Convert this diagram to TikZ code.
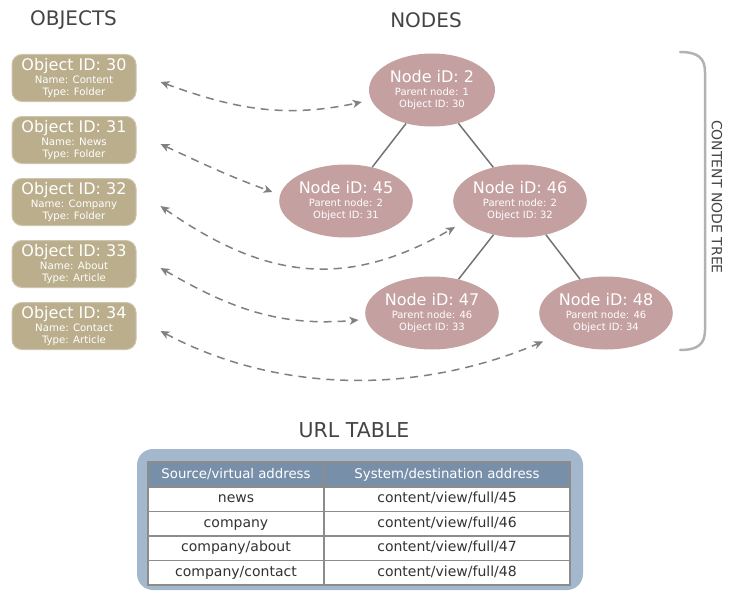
\documentclass[tikz,border=0pt]{standalone}
\usepackage{fontspec}
\setmainfont{DejaVu Sans}
\usepackage{xcolor}
\usepackage{tikz}
\usetikzlibrary{positioning, shapes.geometric, arrows.meta}

\definecolor{objfill}{RGB}{186,174,140}
\definecolor{objline}{RGB}{205,197,172}
\definecolor{nodefill}{RGB}{197,160,160}
\definecolor{framefill}{RGB}{163,184,205}
\definecolor{headfill}{RGB}{120,143,170}
\definecolor{linkgray}{RGB}{128,128,128}
\definecolor{titlegray}{RGB}{68,68,68}
\definecolor{bracegray}{RGB}{178,178,178}

\begin{document}
\begin{tikzpicture}[x=1pt, y=1pt,
    title/.style={font=\fontsize{20}{22}\selectfont, text=titlegray},
    objbox/.style={rectangle, rounded corners=10pt, fill=objfill, draw=objline, line width=1pt,
        minimum width=124pt, minimum height=47pt, inner sep=0pt, text=white, align=center,
        font=\fontsize{10.2}{12.5}\selectfont},
    treenode/.style={ellipse, fill=nodefill, minimum width=126pt, minimum height=73pt,
        inner sep=0pt, text=white, align=center, font=\fontsize{10}{12.5}\selectfont},
    treeline/.style={draw=black!55, line width=1.5pt},
    link/.style={draw=linkgray, line width=1.5pt, dash pattern=on 8pt off 6pt,
        {Stealth[length=9pt,width=8pt,inset=2.5pt]}-{Stealth[length=9pt,width=8pt,inset=2.5pt]}},
    cell/.style={rectangle, draw=black!45, fill=white, line width=1.2pt, minimum height=24.5pt,
        text height=10pt, text depth=3pt, inner sep=0pt, outer sep=0pt, text=black!80,
        font=\fontsize{14}{15}\selectfont},
]
\useasboundingbox (0,0) rectangle (733,-594);

% titles
\node[title] (objtitle) at (73.5,-20) {OBJECTS};
\node[title] (nodetitle) at (426,-20) {NODES};

% objects
\node[objbox] (o30) at (74,-78) {{\fontsize{16}{16}\selectfont Object ID: 30}\\Name: Content\\Type: Folder};
\node[objbox] (o31) [below=14pt of o30] {{\fontsize{16}{16}\selectfont Object ID: 31}\\Name: News\\Type: Folder};
\node[objbox] (o32) [below=14pt of o31] {{\fontsize{16}{16}\selectfont Object ID: 32}\\Name: Company\\Type: Folder};
\node[objbox] (o33) [below=14pt of o32] {{\fontsize{16}{16}\selectfont Object ID: 33}\\Name: About\\Type: Article};
\node[objbox] (o34) [below=14pt of o33] {{\fontsize{16}{16}\selectfont Object ID: 34}\\Name: Contact\\Type: Article};

% content node tree
\node[treenode] (n2) at (432,-90) {{\fontsize{16}{16}\selectfont Node iD: 2}\\Parent node: 1\\Object ID: 30};
\node[treenode] (n45) at (346,-201) {{\fontsize{16}{16}\selectfont Node iD: 45}\\Parent node: 2\\Object ID: 31};
\node[treenode] (n46) at (520,-201) {{\fontsize{16}{16}\selectfont Node iD: 46}\\Parent node: 2\\Object ID: 32};
\node[treenode] (n47) at (432,-313) {{\fontsize{16}{16}\selectfont Node iD: 47}\\Parent node: 46\\Object ID: 33};
\node[treenode] (n48) at (606,-313) {{\fontsize{16}{16}\selectfont Node iD: 48}\\Parent node: 46\\Object ID: 34};

\draw[treeline] (n2) -- (n45);
\draw[treeline] (n2) -- (n46);
\draw[treeline] (n46) -- (n47);
\draw[treeline] (n46) -- (n48);

% object <-> node links
\draw[link] ([shift={(24,-4)}]o30.east) to[out=-20, in=192] ([shift={(-7,-12)}]n2.west);
\draw[link] ([shift={(24,-4)}]o31.east) to[out=-25, in=160] ([shift={(-6.5,9)}]n45.west);
\draw[link] ([shift={(24,-4)}]o32.east) to[out=-35, in=210, looseness=1.1] ([shift={(2,-26)}]n46.west);
\draw[link] ([shift={(24,-4)}]o33.east) to[out=-30, in=185] ([shift={(-6.5,-7)}]n47.west);
\draw[link] ([shift={(24,-5)}]o34.east) to[out=-28, in=203, looseness=0.9] ([shift={(4,-28.5)}]n48.west);

% bracket
\draw[bracegray, line width=2.5pt, line cap=round]
    (680,-52) .. controls (698,-52) and (705,-58) .. (705,-72) -- (705,-330)
    .. controls (705,-344) and (698,-350) .. (680,-350);
\node[rotate=-90, text=titlegray, font=\fontsize{14}{15}\selectfont] (treelabel) at (717,-197) {CONTENT NODE TREE};

% url table
\node[title, font=\fontsize{20.5}{22}\selectfont] (urltitle) at (354,-430) {URL TABLE};
\node[rectangle, rounded corners=16pt, fill=framefill, minimum width=446pt, minimum height=141pt] (urlframe) at (360,-519.5) {};

\node[cell, fill=headfill, text=white, minimum width=176pt, minimum height=25pt, font=\fontsize{13.3}{14}\selectfont] (src0) at (236,-474.5) {Source/virtual address};
\node[cell, fill=headfill, text=white, minimum width=246pt, minimum height=25pt, font=\fontsize{13.3}{14}\selectfont] (dst0) [right=0pt of src0] {System/destination address};
\foreach \src/\dst [count=\i] in {news/45, company/46, {company/about}/47, {company/contact}/48} {
    \pgfmathtruncatemacro{\prev}{\i-1}
    \node[cell, minimum width=176pt] (src\i) [below=0pt of src\prev] {\src};
    \node[cell, minimum width=246pt] (dst\i) [right=0pt of src\i] {content/view/full/\dst};
}

\end{tikzpicture}
\end{document}
